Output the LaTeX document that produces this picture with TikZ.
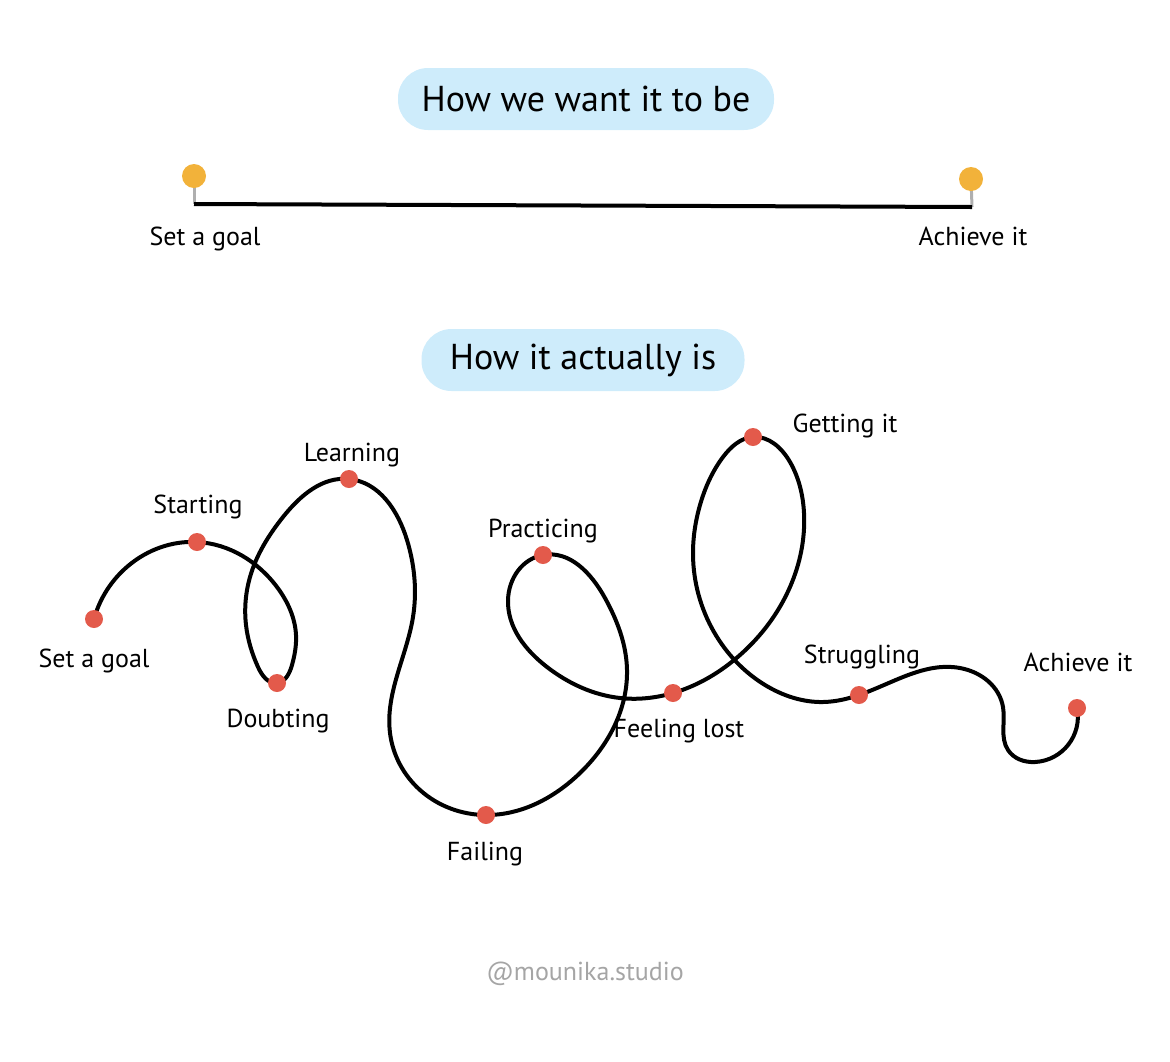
\documentclass[tikz,border=0pt]{standalone}
\usepackage{fontspec}
\setmainfont{PT Sans}
\usetikzlibrary{hobby}
\definecolor{pill}{RGB}{206,236,251}
\definecolor{dotred}{RGB}{227,90,75}
\definecolor{dotorange}{RGB}{242,178,58}
\definecolor{stemgray}{RGB}{175,175,175}
\definecolor{markgray}{RGB}{165,165,165}
\begin{document}
\begin{tikzpicture}[x=0.5pt,y=-0.5pt,
  pillbox/.style={fill=pill, rounded corners=15pt, minimum height=31pt, font=\fontsize{18}{20}\selectfont, inner sep=0pt},
  lbl/.style={font=\fontsize{13}{15}\selectfont, anchor=base, inner sep=0pt},
  rdot/.style={circle, fill=dotred, minimum size=9pt, inner sep=0pt},
  odot/.style={circle, fill=dotorange, minimum size=12pt, inner sep=0pt},
  road/.style={line width=2pt, line cap=round},
  stem/.style={stemgray, line width=1.5pt}
]
\useasboundingbox (0,0) rectangle (1170,1061);

% ---------- top part ----------
\node[pillbox, minimum width=188pt] (title1) at (586,99) {How we want it to be};
\coordinate (tgb) at (194,204);
\coordinate (tab) at (972,207);
\draw[stem] (194,176) coordinate (tgc) -- (tgb);
\draw[stem] (971,179) coordinate (tac) -- (tab);
\draw[line width=2pt] (tgb) -- (tab);
\node[odot] (tgoal) at (tgc) {};
\node[odot] (tach) at (tac) {};
\node[lbl] (tgoallbl) at (205,245) {Set a goal};
\node[lbl] (tachlbl) at (973,245) {Achieve it};

% ---------- bottom part ----------
\node[pillbox, minimum width=161.5pt] (title2) at (583,360) {How it actually is};

\coordinate (p0) at (94,619);
\coordinate (p1) at (197,542);
\coordinate (p2) at (277,683);
\coordinate (p3) at (349,479);
\coordinate (p4) at (486,815);
\coordinate (p5) at (543,555);
\coordinate (p6) at (673,693);
\coordinate (p7) at (753,437);
\coordinate (p8) at (859,695);
\coordinate (p9) at (1077,708);

\coordinate (c01) at (128,566);
\coordinate (c12a) at (277,587);
\coordinate (c12b) at (296,635);
\coordinate (c12c) at (292,665);
\coordinate (c23a) at (258,667);
\coordinate (c23b) at (246,625);
\coordinate (c23c) at (250,577);
\coordinate (c23d) at (283,517);
\coordinate (c34a) at (407,540);
\coordinate (c34b) at (413,617);
\coordinate (c34c) at (390,733);
\coordinate (c34d) at (420,790);
\coordinate (c45a) at (580,773);
\coordinate (c45b) at (627,670);
\coordinate (c45c) at (605,598);
\coordinate (c56a) at (508,600);
\coordinate (c56b) at (547,667);
\coordinate (c56c) at (620,698);
\coordinate (c67b) at (740,655);
\coordinate (c67c) at (790,587);
\coordinate (c67d) at (804,513);
\coordinate (c67e) at (790,462);
\coordinate (c78a) at (723,457);
\coordinate (c78b) at (700,505);
\coordinate (c78c) at (693,555);
\coordinate (c78d) at (714,632);
\coordinate (c78e) at (765,685);
\coordinate (c78f) at (823,702);
\coordinate (c89a) at (960,668);
\coordinate (c89b) at (1003,707);
\coordinate (c89c) at (1008,750);
\coordinate (c89d) at (1035,762);

\draw[road, use Hobby shortcut]
  (p0) .. (c01) .. (p1) .. (c12a) .. (c12b) .. (c12c) .. (p2) .. (c23a) .. (c23b) .. (c23c) .. (c23d) .. (p3)
  .. (c34a) .. (c34b) .. (c34c) .. (c34d) .. (p4) .. (c45a) .. (c45b) .. (c45c) .. (p5)
  .. (c56a) .. (c56b) .. (c56c) .. (p6) .. (c67b) .. (c67c) .. (c67d) .. (c67e) .. (p7)
  .. (c78a) .. (c78b) .. (c78c) .. (c78d) .. (c78e) .. (c78f) .. (p8)
  .. (c89a) .. (c89b) .. (c89c) .. (c89d) .. (p9);

\node[rdot] (goal) at (p0) {};
\node[rdot] (start) at (p1) {};
\node[rdot] (doubt) at (p2) {};
\node[rdot] (learn) at (p3) {};
\node[rdot] (fail) at (p4) {};
\node[rdot] (practice) at (p5) {};
\node[rdot] (lost) at (p6) {};
\node[rdot] (getting) at (p7) {};
\node[rdot] (struggle) at (p8) {};
\node[rdot] (achieve) at (p9) {};

\node[lbl] (goallbl) at (94,667) {Set a goal};
\node[lbl] (startlbl) at (198,513) {Starting};
\node[lbl] (learnlbl) at (352,461) {Learning};
\node[lbl] (doubtlbl) at (278,727) {Doubting};
\node[lbl] (faillbl) at (485,860) {Failing};
\node[lbl] (practicelbl) at (543,537) {Practicing};
\node[lbl] (lostlbl) at (679,737) {Feeling lost};
\node[lbl] (gettinglbl) at (845,432) {Getting it};
\node[lbl] (strugglelbl) at (862,663) {Struggling};
\node[lbl] (achievelbl) at (1078,671) {Achieve it};

\node[lbl, text=markgray] (mark) at (585,980) {@mounika.studio};
\end{tikzpicture}
\end{document}
